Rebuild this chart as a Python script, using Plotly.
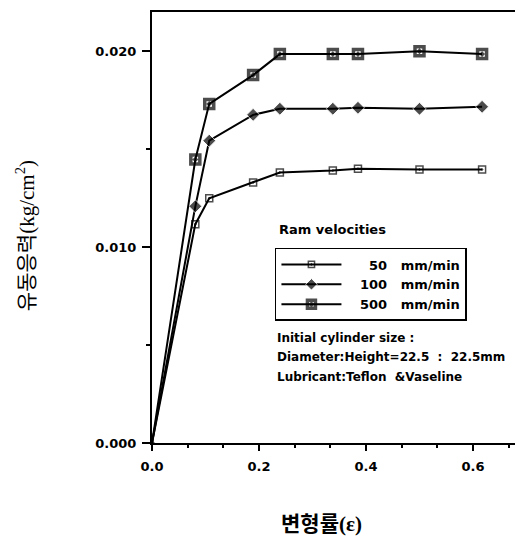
import plotly.graph_objects as go

strain = [0.0, 0.081, 0.107, 0.189, 0.239, 0.338, 0.385, 0.50, 0.617]
stress_50 = [0.0, 0.01117, 0.01249, 0.0133, 0.01381, 0.01391, 0.0140, 0.01396, 0.01396]
stress_100 = [0.0, 0.01208, 0.01543, 0.01675, 0.01706, 0.01706, 0.01711, 0.01706, 0.01716]
stress_500 = [0.0, 0.01447, 0.01731, 0.01878, 0.01985, 0.01985, 0.01985, 0.0200, 0.01985]
NB = "\u00a0"
labels = [NB * 5 + "50" + NB * 3 + "mm/min",
          NB * 3 + "100" + NB * 3 + "mm/min",
          NB * 3 + "500" + NB * 3 + "mm/min"]
x_ticks = [0.0, 0.2, 0.4, 0.6]
x_ticktext = ["0.0", "0.2", "0.4", "0.6"]
y_ticks = [0.0, 0.010, 0.020]
y_ticktext = ["0.000", "0.010", "0.020"]

fig = go.Figure()

def sizes(s):
    return [0] + [s] * (len(strain) - 1)

fig.add_trace(go.Scatter(
    x=strain, y=stress_50, mode="lines+markers", name=labels[0],
    line=dict(color="black", width=2),
    marker=dict(symbol="square-open-dot", size=sizes(7), color="black",
                line=dict(color="black", width=1.5)),
))
fig.add_trace(go.Scatter(
    x=strain, y=stress_100, mode="lines+markers", name=labels[1],
    line=dict(color="black", width=2),
    marker=dict(symbol="diamond", size=sizes(10), color="black"),
))
fig.add_trace(go.Scatter(
    x=strain, y=stress_500, mode="lines+markers", name=labels[2],
    line=dict(color="black", width=2),
    marker=dict(symbol="square-open-dot", size=sizes(9), color="black",
                line=dict(color="black", width=3.5)),
))

FONT = "DejaVu Sans, sans-serif"

# The page body has an 8px default margin; the figure is sized to fit the window.
fig.update_layout(
    width=515, height=533,
    margin=dict(l=144, r=4, t=2, b=98),
    paper_bgcolor="white", plot_bgcolor="white",
    font=dict(family=FONT, color="black", size=12, weight="bold"),
    legend=dict(
        x=0.335, y=0.4525, xanchor="left", yanchor="top",
        bordercolor="black", borderwidth=1.5, bgcolor="white",
        itemwidth=60, font=dict(size=13, family=FONT, weight="bold"),
        tracegroupgap=0,
    ),
    showlegend=True,
)

fig.update_xaxes(
    range=[0, 0.686], tickvals=x_ticks, ticktext=x_ticktext,
    showgrid=False, zeroline=False,
    showline=True, linecolor="black", linewidth=2, mirror=True,
    ticks="outside", ticklen=6, tickwidth=2, tickcolor="black",
    ticklabelstandoff=4,
    tickfont=dict(size=13, family=FONT, weight="bold"),
    minor=dict(dtick=0.2 / 3, tick0=0, ticks="outside", ticklen=3, tickwidth=1.5, tickcolor="black"),
)
fig.update_yaxes(
    range=[0, 0.022], tickvals=y_ticks, ticktext=y_ticktext,
    showgrid=False, zeroline=False,
    showline=True, linecolor="black", linewidth=2,
    ticks="outside", ticklen=8, tickwidth=2, tickcolor="black",
    ticklabelstandoff=3,
    tickfont=dict(size=13, family=FONT, weight="bold"),
    minor=dict(dtick=0.005, tick0=0, ticks="outside", ticklen=4, tickwidth=1.5, tickcolor="black"),
)

notes = [
    ("Ram velocities", 0.3406, 0.4965, 13),
    ("Initial cylinder size :", 0.335, 0.2425, 12),
    ("Diameter:Height=22.5" + NB * 2 + ":" + NB * 2 + "22.5mm", 0.335, 0.1986, 12),
    ("Lubricant:Teflon" + NB * 2 + "&amp;Vaseline", 0.335, 0.1524, 12),
]
for txt, xx, yy, fs in notes:
    fig.add_annotation(text=txt, x=xx, y=yy, xref="paper", yref="paper",
                       xanchor="left", yanchor="middle", showarrow=False,
                       font=dict(size=fs, family=FONT, weight="bold"))

fig.add_annotation(text="유동응력(kg/cm<sup>2</sup>)", x=-0.346, y=0.48,
                   xref="paper", yref="paper", textangle=-90, showarrow=False,
                   xanchor="center", yanchor="middle",
                   font=dict(size=21, family="Liberation Serif, Noto Sans CJK KR, serif",
                             weight="normal"))
fig.add_annotation(text="변형률(ε)", x=0.463, y=-0.189,
                   xref="paper", yref="paper", showarrow=False,
                   xanchor="center", yanchor="middle",
                   font=dict(size=21, family="Liberation Serif, Noto Sans CJK KR, serif",
                             weight="bold"))

fig.write_html("out.html")
